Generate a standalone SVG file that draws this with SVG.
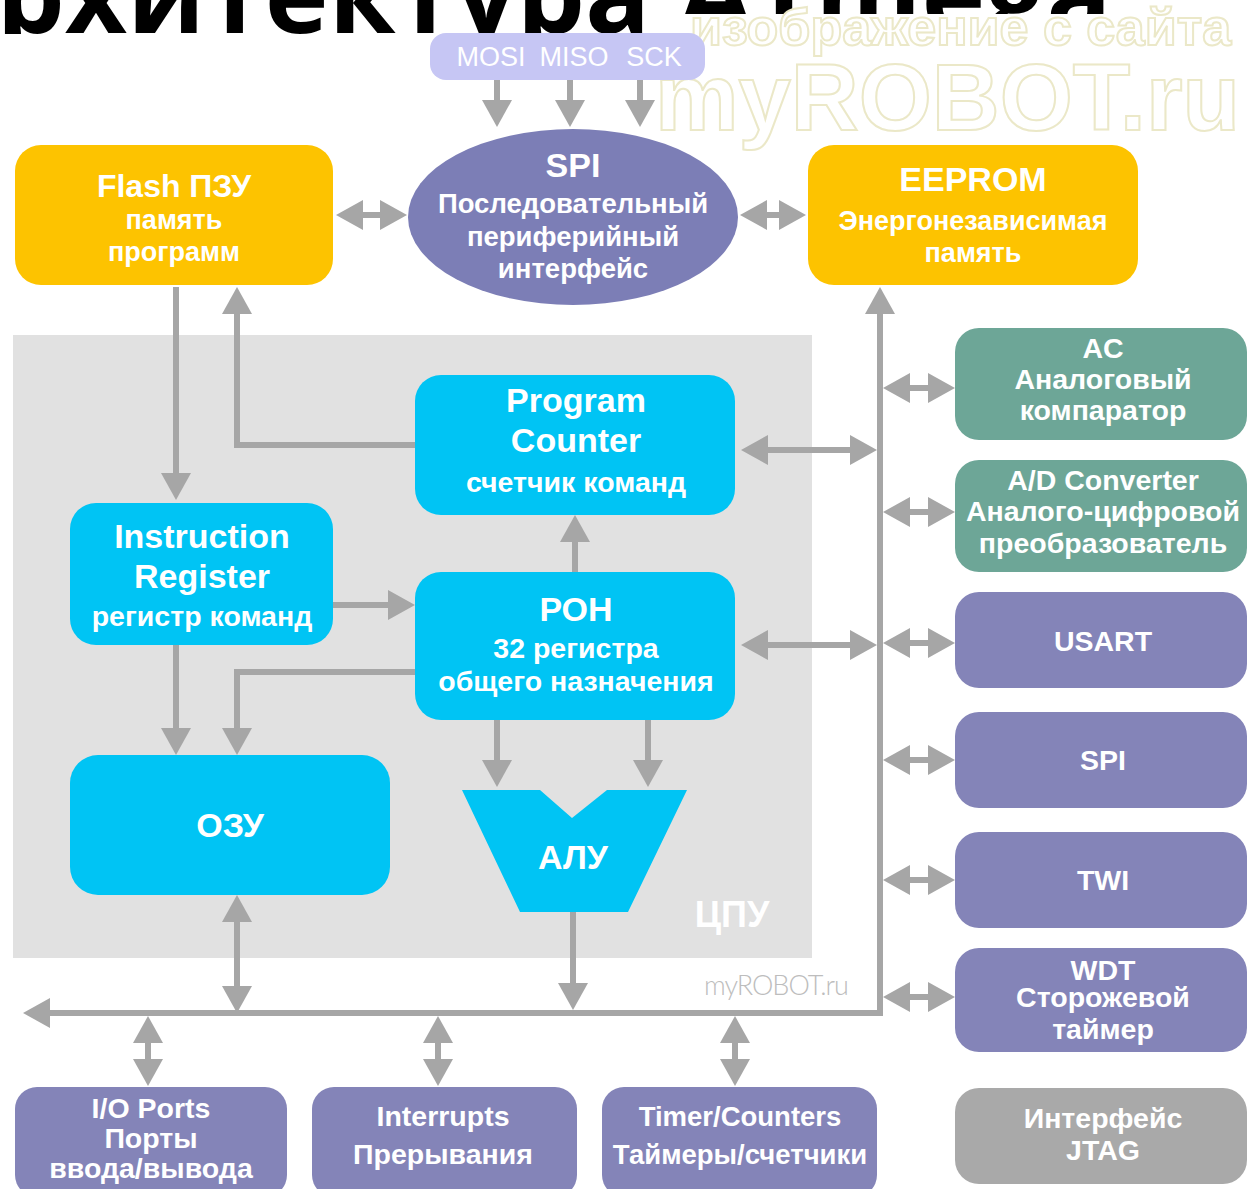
<svg xmlns="http://www.w3.org/2000/svg" width="1249" height="1189" viewBox="0 0 1249 1189">
  <defs>
    <style>
      .lbl { font-family: "Liberation Sans", Arial, sans-serif; font-weight: bold; fill: #ffffff; text-anchor: middle; }
      .big { font-size: 34px; }
      .mid { font-size: 34px; }
      .sm { font-size: 28.5px; }
      .el { font-size: 27.5px; }
      .yellow { fill: #fdc300; }
      .cyan { fill: #00c4f4; }
      .lav { fill: #8484b8; }
      .teal { fill: #6da697; }
      .jtag { fill: #a9a9a9; }
      .wire { fill: none; stroke: #a6a6a6; stroke-width: 6; }
      .one { marker-end: url(#head); }
      .two { marker-start: url(#head); marker-end: url(#head); }
      .wm { font-family: "Liberation Sans", Arial, sans-serif; font-weight: bold; fill: #ffffff; stroke: #ebe8c8; stroke-width: 2; }
    </style>
    <marker id="head" viewBox="0 0 9 10" refX="7" refY="5" markerWidth="4.5" markerHeight="5" orient="auto-start-reverse">
      <path d="M0,0 L9,5 L0,10 z" fill="#a6a6a6"/>
    </marker>
    <clipPath id="titleClip">
      <rect x="0" y="0" width="650" height="34"/>
      <rect x="650" y="0" width="599" height="14"/>
    </clipPath>
  </defs>

  <rect x="0" y="0" width="1249" height="1189" fill="#ffffff"/>

  <!-- slide title, cut off by the top edge -->
  <g id="title" clip-path="url(#titleClip)">
    <text x="-78" y="33" font-family="'Open Sans', 'Noto Sans', sans-serif" font-weight="bold" font-size="108" fill="#000000">Архитектура ATmega</text>
  </g>

  <!-- site watermark -->
  <g id="watermark">
    <text class="wm" x="690" y="45" font-size="52">изображение с сайта</text>
    <text class="wm" x="655" y="130" font-size="94">myROBOT.ru</text>
  </g>

  <!-- CPU area -->
  <g id="cpu">
    <rect x="13" y="335" width="799" height="623" fill="#e1e1e1"/>
    <text x="732" y="927" font-family="'Liberation Sans', Arial, sans-serif" font-weight="bold" font-size="36" fill="#ffffff" text-anchor="middle">ЦПУ</text>
  </g>

  <text id="credit" x="776" y="995" font-family="Lato, 'Liberation Sans', sans-serif" font-weight="300" font-size="27" fill="#bdbdbd" text-anchor="middle" letter-spacing="-1">myROBOT.ru</text>

  <!-- connectors -->
  <g id="connectors">
    <path class="wire one" d="M497,80 V121"/>
    <path class="wire one" d="M570,80 V121"/>
    <path class="wire one" d="M640,80 V121"/>
    <path class="wire two" d="M342,215 H401"/>
    <path class="wire two" d="M746,215 H800"/>
    <path class="wire one" d="M176,287 V494"/>
    <path class="wire one" d="M415,445 H237 V293"/>
    <path class="wire one" d="M333,605 H409"/>
    <path class="wire one" d="M176,645 V749"/>
    <path class="wire one" d="M415,672 H237 V749"/>
    <path class="wire two" d="M237,901 V1007"/>
    <path class="wire one" d="M575,572 V521"/>
    <path class="wire one" d="M497,720 V781"/>
    <path class="wire one" d="M648,720 V781"/>
    <path class="wire one" d="M573,912 V1004"/>
    <!-- system bus -->
    <path class="wire two" d="M880,293 V1013 H29"/>
    <path class="wire two" d="M747,450 H871"/>
    <path class="wire two" d="M747,645 H871"/>
    <!-- peripheral taps -->
    <path class="wire two" d="M889,388 H949"/>
    <path class="wire two" d="M889,512 H949"/>
    <path class="wire two" d="M889,643 H949"/>
    <path class="wire two" d="M889,760 H949"/>
    <path class="wire two" d="M889,880 H949"/>
    <path class="wire two" d="M889,997 H949"/>
    <path class="wire two" d="M148,1022 V1080"/>
    <path class="wire two" d="M438,1022 V1080"/>
    <path class="wire two" d="M735,1022 V1080"/>
  </g>

  <!-- SPI pins -->
  <g id="spi-pins">
    <rect x="430" y="33" width="275" height="47" rx="16" fill="#c6c6f4"/>
    <text x="491" y="66" font-family="'Liberation Sans', Arial, sans-serif" font-size="27" fill="#ffffff" text-anchor="middle">MOSI</text>
    <text x="574" y="66" font-family="'Liberation Sans', Arial, sans-serif" font-size="27" fill="#ffffff" text-anchor="middle">MISO</text>
    <text x="654" y="66" font-family="'Liberation Sans', Arial, sans-serif" font-size="27" fill="#ffffff" text-anchor="middle">SCK</text>
  </g>

  <g id="spi-main">
    <ellipse cx="573" cy="217" rx="165" ry="88" fill="#7c7eb6"/>
    <text class="lbl big" x="573" y="177">SPI</text>
    <text class="lbl el" x="573" y="213">Последовательный</text>
    <text class="lbl el" x="573" y="246">периферийный</text>
    <text class="lbl el" x="573" y="278">интерфейс</text>
  </g>

  <g id="flash">
    <rect class="yellow" x="15" y="145" width="318" height="140" rx="26"/>
    <text class="lbl" x="174" y="197" font-size="32">Flash ПЗУ</text>
    <text class="lbl" x="174" y="229" font-size="27">память</text>
    <text class="lbl" x="174" y="261" font-size="27">программ</text>
  </g>

  <g id="eeprom">
    <rect class="yellow" x="808" y="145" width="330" height="140" rx="26"/>
    <text class="lbl big" x="973" y="191">EEPROM</text>
    <text class="lbl" x="973" y="230" font-size="27">Энергонезависимая</text>
    <text class="lbl" x="973" y="262" font-size="27">память</text>
  </g>

  <g id="program-counter">
    <rect class="cyan" x="415" y="375" width="320" height="140" rx="26"/>
    <text class="lbl mid" x="576" y="412">Program</text>
    <text class="lbl mid" x="576" y="452">Counter</text>
    <text class="lbl sm" x="576" y="492">счетчик команд</text>
  </g>

  <g id="instruction-register">
    <rect class="cyan" x="70" y="503" width="263" height="142" rx="26"/>
    <text class="lbl mid" x="202" y="548">Instruction</text>
    <text class="lbl mid" x="202" y="588">Register</text>
    <text class="lbl sm" x="202" y="626">регистр команд</text>
  </g>

  <g id="gpr">
    <rect class="cyan" x="415" y="572" width="320" height="148" rx="26"/>
    <text class="lbl big" x="576" y="621">РОН</text>
    <text class="lbl sm" x="576" y="658">32 регистра</text>
    <text class="lbl sm" x="576" y="691">общего назначения</text>
  </g>

  <g id="ram">
    <rect class="cyan" x="70" y="755" width="320" height="140" rx="28"/>
    <text class="lbl big" x="230" y="837">ОЗУ</text>
  </g>

  <g id="alu">
    <polygon class="cyan" points="462,790 540,790 572,818 607,790 687,790 628,912 520,912"/>
    <text class="lbl big" x="573" y="869">АЛУ</text>
  </g>

  <g id="ac">
    <rect class="teal" x="955" y="328" width="292" height="112" rx="24"/>
    <text class="lbl sm" x="1103" y="358">AC</text>
    <text class="lbl sm" x="1103" y="389">Аналоговый</text>
    <text class="lbl sm" x="1103" y="420">компаратор</text>
  </g>

  <g id="adc">
    <rect class="teal" x="955" y="460" width="292" height="112" rx="24"/>
    <text class="lbl sm" x="1103" y="490">A/D Converter</text>
    <text class="lbl sm" x="1103" y="521">Аналого-цифровой</text>
    <text class="lbl sm" x="1103" y="553">преобразователь</text>
  </g>

  <g id="usart">
    <rect class="lav" x="955" y="592" width="292" height="96" rx="24"/>
    <text class="lbl sm" x="1103" y="651">USART</text>
  </g>

  <g id="spi">
    <rect class="lav" x="955" y="712" width="292" height="96" rx="24"/>
    <text class="lbl sm" x="1103" y="770">SPI</text>
  </g>

  <g id="twi">
    <rect class="lav" x="955" y="832" width="292" height="96" rx="24"/>
    <text class="lbl sm" x="1103" y="890">TWI</text>
  </g>

  <g id="wdt">
    <rect class="lav" x="955" y="948" width="292" height="104" rx="24"/>
    <text class="lbl sm" x="1103" y="980">WDT</text>
    <text class="lbl sm" x="1103" y="1007">Сторожевой</text>
    <text class="lbl sm" x="1103" y="1039">таймер</text>
  </g>

  <g id="jtag">
    <rect class="jtag" x="955" y="1088" width="292" height="96" rx="24"/>
    <text class="lbl sm" x="1103" y="1128">Интерфейс</text>
    <text class="lbl sm" x="1103" y="1160">JTAG</text>
  </g>

  <g id="io-ports">
    <rect class="lav" x="15" y="1087" width="272" height="110" rx="22"/>
    <text class="lbl sm" x="151" y="1118">I/O Ports</text>
    <text class="lbl sm" x="151" y="1148">Порты</text>
    <text class="lbl sm" x="151" y="1178">ввода/вывода</text>
  </g>

  <g id="interrupts">
    <rect class="lav" x="312" y="1087" width="265" height="110" rx="22"/>
    <text class="lbl sm" x="443" y="1126">Interrupts</text>
    <text class="lbl sm" x="443" y="1164">Прерывания</text>
  </g>

  <g id="timers">
    <rect class="lav" x="602" y="1087" width="275" height="110" rx="22"/>
    <text class="lbl" x="740" y="1126" font-size="27.5">Timer/Counters</text>
    <text class="lbl" x="740" y="1164" font-size="27.5">Таймеры/счетчики</text>
  </g>
</svg>
